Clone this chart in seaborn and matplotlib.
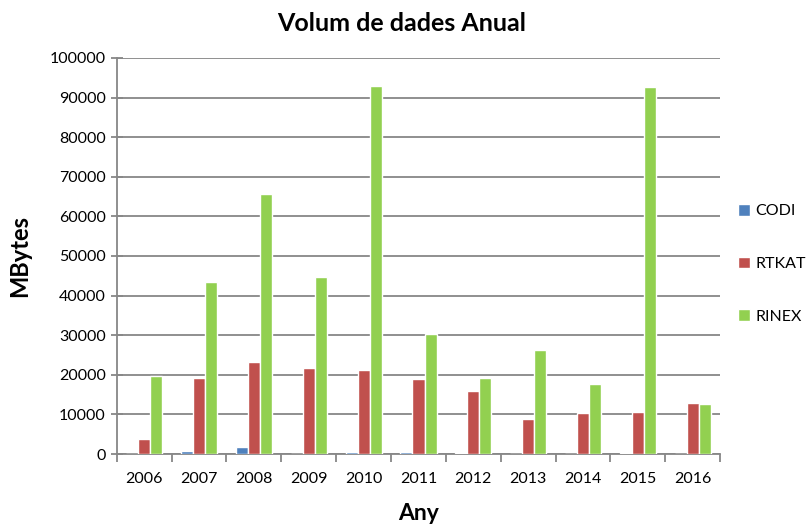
import numpy as np
import pandas as pd
import matplotlib
matplotlib.use('Agg')
import matplotlib.pyplot as plt
import seaborn as sns

sns.set_style('white')
plt.rcParams['font.family'] = ['Lato', 'DejaVu Sans']
plt.rcParams['text.color'] = 'black'
plt.rcParams['axes.labelcolor'] = 'black'
plt.rcParams['xtick.labelcolor'] = 'black'
plt.rcParams['ytick.labelcolor'] = 'black'

# dades llegides del gràfic
anys = ['2006', '2007', '2008', '2009', '2010', '2011', '2012', '2013', '2014', '2015', '2016']
codi = [100, 800, 1800, 100, 600, 600, 200, 0, 0, 200, 0]
rtkat = [3800, 19300, 23300, 21600, 21300, 19000, 16000, 8900, 10400, 10500, 12900]
rinex = [19600, 43500, 65600, 44700, 93000, 30400, 19300, 26200, 17600, 92600, 12700]
series = ['CODI', 'RTKAT', 'RINEX']
colors = ['#4F81BD', '#C0504D', '#92D050']

df = pd.DataFrame({'Any': anys, 'CODI': codi, 'RTKAT': rtkat, 'RINEX': rinex})
df = df.melt(id_vars='Any', var_name='Serie', value_name='MBytes')

fig = plt.figure(figsize=(8.11, 5.27), dpi=100)
ax = fig.add_axes([0.144, 0.1385, 0.744, 0.7515])

sns.barplot(data=df, x='Any', y='MBytes', hue='Serie', hue_order=series,
            palette=colors, width=0.66, saturation=1, ax=ax, zorder=3)

ax.set_ylim(0, 100000)
ax.set_xlim(-0.5, len(anys) - 0.5)
ax.set_yticks(np.arange(0, 100001, 10000))
ax.yaxis.grid(True, color='#878787', linewidth=1.3, zorder=0)
ax.set_axisbelow(True)

for s in ['top', 'right']:
    ax.spines[s].set_visible(False)
for s in ['left', 'bottom']:
    ax.spines[s].set_color('#878787')
    ax.spines[s].set_linewidth(1.3)

ax.tick_params(axis='y', left=True, direction='inout', length=8, width=1.3,
               color='#878787', labelsize=11.5, pad=4)
ax.set_xticks(np.arange(-0.5, len(anys), 1), minor=True)
ax.tick_params(axis='x', which='major', length=0, labelsize=11.5, pad=13)
ax.tick_params(axis='x', which='minor', bottom=True, length=6, color='#878787', width=1.3)

fig.text(0.495, 0.955, 'Volum de dades Anual', fontsize=18, fontweight='bold',
         ha='center', va='center')
ax.set_xlabel('Any', fontsize=16.5, fontweight='bold', labelpad=12)
ax.set_ylabel('MBytes', fontsize=17, fontweight='bold', labelpad=13)

ax.legend(title=None, frameon=False, loc='center left', bbox_to_anchor=(1.0, 0.48),
          fontsize=11.5, handlelength=0.75, handleheight=0.75, handletextpad=0.35,
          labelspacing=2.4, borderaxespad=0.7)

fig.savefig('out.png', dpi=100)
